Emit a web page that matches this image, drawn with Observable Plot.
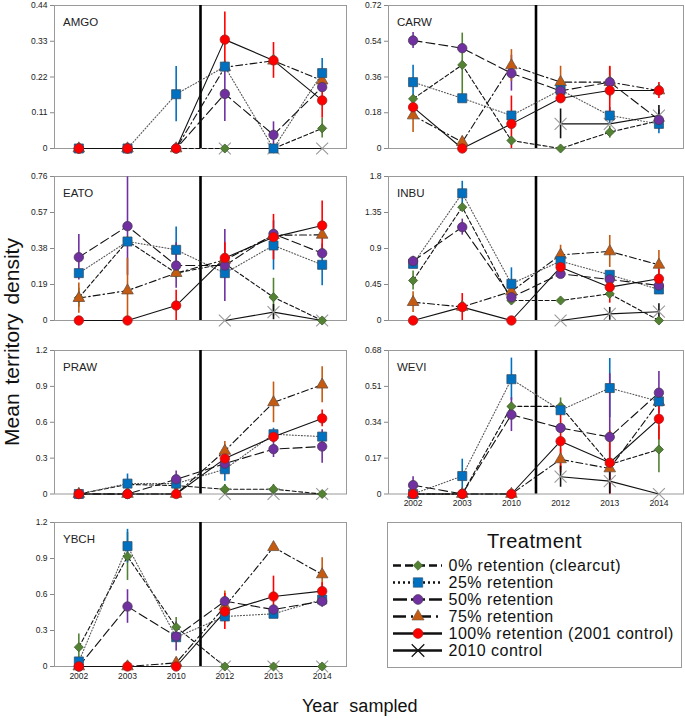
<!DOCTYPE html>
<html><head><meta charset="utf-8">
<script src="https://cdn.jsdelivr.net/npm/d3@7"></script>
<script src="https://cdn.jsdelivr.net/npm/@observablehq/plot@0.6"></script>
<style>
body{margin:0;background:#fff;font-family:"Liberation Sans",Arial,sans-serif;}
#c{position:relative;width:685px;height:720px;overflow:hidden;}
.p{position:absolute;}
.lab{position:absolute;color:#111;white-space:nowrap;}
</style></head><body><div id="c"></div><script>
// ---------- data ----------
const years = ["2002","2003","2010","2012","2013","2014"];
const treatments = ["0% retention (clearcut)","25% retention","50% retention","75% retention","100% retention (2001 control)","2010 control"];
const species = ["AMGO","CARW","EATO","INBU","PRAW","WEVI","YBCH"];
const yTicksAMGO = [0,0.11,0.22,0.33,0.44];
const yTicksCARW = [0,0.18,0.36,0.54,0.72];
const yTicksEATO = [0,0.19,0.38,0.57,0.76];
const yTicksINBU = [0,0.45,0.9,1.35,1.8];
const yTicksPRAW = [0,0.3,0.6,0.9,1.2];
const yTicksWEVI = [0,0.17,0.34,0.51,0.68];
const yTicksYBCH = [0,0.3,0.6,0.9,1.2];
// rows: 0%, 25%, 50%, 75%, 100%, 2010 control ; columns: years
const amgoMean = [
  [0,0,0,0,0,0.062],
  [0,0,0.167,0.252,0,0.232],
  [0,0,0,0.168,0.042,0.189],
  [0,0,0,0.25,0.27,0.209],
  [0,0,0,0.335,0.271,0.148],
  [null,null,null,0,0,0]];
const amgoErr = [
  [0,0,0,0,0,0.03],
  [0,0,0.085,0,0,0.045],
  [0,0,0,0.085,0.04,0],
  [0,0,0,0,0,0],
  [0,0,0,0.085,0.055,0.055],
  [0,0,0,0,0,0]];
const carwMean = [
  [0.25,0.421,0.04,0,0.082,0.14],
  [0.334,0.253,0.166,0.295,0.166,0.124],
  [0.544,0.505,0.379,0.29,0.334,0.144],
  [0.166,0.032,0.418,0.334,0.334,0.292],
  [0.208,0,0.124,0.253,0.292,0.292],
  [null,null,null,0.124,0.124,0.166]];
const carwErr = [
  [0,0.16,0,0,0.03,0],
  [0.085,0,0,0,0.04,0.05],
  [0.04,0,0.09,0,0,0.05],
  [0.085,0.03,0.08,0.08,0.08,0],
  [0,0,0.14,0,0.12,0.04],
  [0,0,0,0.075,0,0.05]];
const eatoMean = [
  [0.12,0.42,0.25,0.3,0.123,0],
  [0.25,0.417,0.373,0.25,0.396,0.294],
  [0.334,0.498,0.29,0.29,0.457,0.355],
  [0.118,0.158,0.25,0.32,0.45,0.452],
  [0,0,0.079,0.33,0.44,0.501],
  [null,null,null,0,0.044,0]];
const eatoErr = [
  [0.05,0,0,0,0.1,0],
  [0,0,0.12,0,0.13,0.11],
  [0.12,0.26,0.12,0.19,0,0],
  [0.08,0.17,0,0,0,0],
  [0,0,0.08,0.08,0.12,0.13],
  [0,0,0,0,0.04,0]];
const inbuMean = [
  [0.5,1.417,0.25,0.25,0.333,0],
  [0.708,1.59,0.458,0.742,0.571,0.388],
  [0.742,1.167,0.29,0.583,0.513,0.438],
  [0.229,0.17,0.363,0.821,0.863,0.696],
  [0,0.167,0,0.667,0.417,0.521],
  [null,null,null,0,0.083,0.11]];
const inbuErr = [
  [0.12,0,0,0,0,0],
  [0,0.15,0.2,0,0,0],
  [0.06,0.1,0,0,0,0.05],
  [0.13,0,0,0.12,0.2,0.18],
  [0,0.17,0,0,0.2,0.12],
  [0,0,0,0,0.08,0.1]];
const prawMean = [
  [0,0.08,0.07,0.04,0.04,0],
  [0,0.087,0.087,0.207,0.5,0.48],
  [0,0,0.123,0.254,0.375,0.397],
  [0,0,0,0.36,0.766,0.914],
  [0,0,0,0.296,0.478,0.632],
  [null,null,null,0,0,0]];
const prawErr = [
  [0,0,0,0.04,0.04,0],
  [0,0.08,0,0.1,0.05,0],
  [0,0,0.07,0,0.07,0.14],
  [0,0,0,0.08,0.17,0.15],
  [0,0,0,0.05,0.05,0.07],
  [0,0,0,0,0,0]];
const weviMean = [
  [0,0,0.415,0.415,0.14,0.211],
  [0,0.085,0.544,0.397,0.502,0.439],
  [0.042,0,0.376,0.313,0.27,0.48],
  [0,0,0,0.164,0.121,0.436],
  [0,0,0,0.25,0.148,0.356],
  [null,null,null,0.082,0.061,0]];
const weviErr = [
  [0,0,0,0.04,0,0.11],
  [0,0.08,0.1,0,0.14,0],
  [0.04,0,0.08,0,0.3,0.1],
  [0,0,0,0.05,0,0],
  [0,0,0,0.15,0.15,0.1],
  [0,0,0,0.05,0.06,0]];
const ybchMean = [
  [0.161,0.917,0.328,0,0,0],
  [0.042,1.003,0.244,0.417,0.439,0.558],
  [0,0.5,0.25,0.544,0.475,0.544],
  [0,0,0.03,0.5,0.994,0.767],
  [0,0,0,0.458,0.583,0.628],
  [null,null,null,0,0,0]];
const ybchErr = [
  [0.11,0.2,0.08,0,0,0],
  [0,0.14,0,0,0.03,0.03],
  [0,0.14,0.12,0,0,0.05],
  [0,0,0.04,0.13,0,0.14],
  [0,0,0,0.15,0.17,0.07],
  [0,0,0,0,0,0]];

// ---------- styling ----------
const sty = [
  {fill:"#548235", stroke:"#3b5e24", symbol:"diamond2", r:4.1, dash:"4,2.5", line:"#111"},
  {fill:"#0070C0", stroke:"#35506a", symbol:"square", r:5.1, dash:"1,2", line:"#555"},
  {fill:"#7030A0", stroke:"#4a3a55", symbol:"circle", r:4.7, dash:"9,4", line:"#111"},
  {fill:"#C55A11", stroke:"#6b5040", symbol:"triangle", r:4.3, dash:"7,3,1.5,3", line:"#111"},
  {fill:"#FF0000", stroke:"#a02020", symbol:"circle", r:4.7, dash:null, line:"#111"},
  {fill:"none", stroke:"#999", symbol:"times", r:5.5, dash:null, line:"#111"}
];
const dotOrder = [5,0,3,1,2,4];
const panels = [
  {name:"AMGO", mean:amgoMean, err:amgoErr, ticks:yTicksAMGO, col:0, row:0},
  {name:"CARW", mean:carwMean, err:carwErr, ticks:yTicksCARW, col:1, row:0},
  {name:"EATO", mean:eatoMean, err:eatoErr, ticks:yTicksEATO, col:0, row:1},
  {name:"INBU", mean:inbuMean, err:inbuErr, ticks:yTicksINBU, col:1, row:1},
  {name:"PRAW", mean:prawMean, err:prawErr, ticks:yTicksPRAW, col:0, row:2, xaxis:false},
  {name:"WEVI", mean:weviMean, err:weviErr, ticks:yTicksWEVI, col:1, row:2, xaxis:true},
  {name:"YBCH", mean:ybchMean, err:ybchErr, ticks:yTicksYBCH, col:0, row:3, xaxis:true}
];
const frameTop = [5,176,349.5,522];
const frameBot = [148,320,493,666];
const colGeom = [{left:0,width:346,ml:54,mr:0},{left:340,width:345,ml:48,mr:2}];
const MT = 6, MB = 22;
const c = document.getElementById("c");

for (const p of panels) {
  const g = colGeom[p.col];
  const inner = frameBot[p.row] - frameTop[p.row];
  const rows = p.mean.map((arr,t) => arr.map((v,i) => ({t, i, y:v, e:p.err[t][i]})).filter(d => d.y != null));
  const marks = [Plot.frame({stroke:"#9a9a9a"}),
    Plot.ruleX([2.5], {stroke:"#000", strokeWidth:2.6})];
  rows.forEach((r,t) => marks.push(Plot.line(r, {x:"i", y:"y", stroke:sty[t].line, strokeWidth:1.1, strokeDasharray:sty[t].dash})));
  rows.forEach((r,t) => marks.push(Plot.ruleX(r.filter(d => d.e > 0), {x:"i", y1:d => Math.max(0, d.y - d.e), y2:d => d.y + d.e, stroke: t === 5 ? "#111" : sty[t].fill, strokeWidth:1.6})));
  dotOrder.forEach(t => marks.push(Plot.dot(rows[t], {x:"i", y:"y", symbol:sty[t].symbol, r:sty[t].r, fill:sty[t].fill, stroke:sty[t].stroke, strokeWidth: t === 5 ? 1.1 : 0.8})));
  marks.push(Plot.axisY({ticks:p.ticks, tickFormat:d => String(d), tickSize:4, tickPadding:3, stroke:"#888", fill:"#222", fontSize:8.5, label:null}));
  if (p.xaxis) marks.push(Plot.axisX({ticks:[0,1,2,3,4,5], tickFormat:i => years[i], tickSize:0, tickPadding:6, fill:"#222", fontSize:8.5, label:null}));
  marks.push(Plot.text([p.name], {text:d => d, frameAnchor:"top-left", dx:8.5, dy:12.5, textAnchor:"start", fontSize:11.5, fill:"#222"}));
  const svg = Plot.plot({
    width:g.width, height:MT + inner + MB,
    marginLeft:g.ml, marginRight:g.mr, marginTop:MT, marginBottom:MB,
    x:{type:"linear", domain:[-0.5,5.5], axis: p.xaxis ? undefined : null},
    y:{type:"linear", domain:[0, p.ticks[p.ticks.length-1]]},
    style:{background:"transparent", overflow:"visible", fontFamily:"Liberation Sans, Arial, sans-serif", fontSize:"8.5px", color:"#222"},
    marks
  });
  svg.classList.add("p");
  svg.style.left = g.left + "px";
  svg.style.top = (frameTop[p.row] - MT) + "px";
  c.appendChild(svg);
}

// ---------- legend ----------
const legRows = treatments.map((name,t) => ({t, name}));
const legMarks = [Plot.frame({stroke:"#9a9a9a"}),
  Plot.text(["Treatment"], {text:d => d, frameAnchor:"top", dy:11, fontSize:20, fill:"#111"})];
legRows.forEach(d => legMarks.push(Plot.ruleY([d], {y:"name", x1:6, x2:55, stroke:"#111", strokeWidth:2.4, strokeDasharray: d.t === 0 ? "8,4" : d.t === 1 ? "2,3" : d.t === 2 ? "14,4" : d.t === 3 ? "13,5,2,5" : null})));
legRows.forEach(d => legMarks.push(Plot.dot([d], {x:() => 30.5, y:"name", symbol:sty[d.t].symbol, r:sty[d.t].r * 1.05, fill: d.t === 5 ? "none" : sty[d.t].fill, stroke: d.t === 5 ? "#111" : sty[d.t].stroke, strokeWidth: d.t === 5 ? 1.2 : 0.6})));
legMarks.push(Plot.text(legRows, {x:() => 61, y:"name", text:"name", textAnchor:"start", fontSize:16, fill:"#111"}));
const leg = Plot.plot({
  width:294, height:145, margin:0,
  x:{type:"linear", domain:[0,294], range:[0,294], axis:null},
  y:{type:"point", domain:treatments, range:[32.5,137.5], axis:null},
  style:{background:"#fff", overflow:"visible", fontFamily:"Liberation Sans, Arial, sans-serif", letterSpacing:"0.5px"},
  marks:legMarks
});
leg.classList.add("p");
leg.style.left = "387px"; leg.style.top = "522px";
c.appendChild(leg);

// ---------- axis titles ----------
const yl = document.createElement("div");
yl.className = "lab"; yl.textContent = "Mean territory density";
yl.style.cssText += "font-size:21px;word-spacing:3px;left:12px;top:342px;transform:translate(-50%,-50%) rotate(-90deg);";
c.appendChild(yl);
const xl = document.createElement("div");
xl.className = "lab"; xl.textContent = "Year sampled";
xl.style.cssText += "font-size:18px;word-spacing:6px;left:302px;top:706px;transform:translate(0,-50%);";
c.appendChild(xl);
</script></body></html>
